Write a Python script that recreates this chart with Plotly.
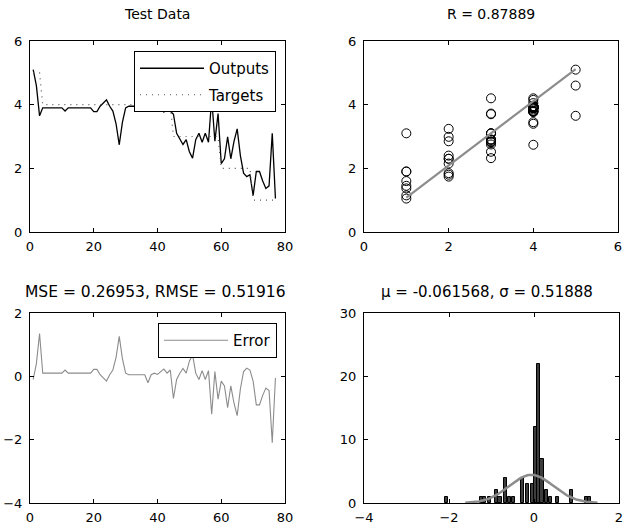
import numpy as np
import plotly.graph_objects as go

# ---------------- data ----------------
sample_index = list(range(1, 78))
targets = [5, 5, 5,
           4, 4, 4, 4, 4, 4, 4, 4, 4, 4, 4, 4, 4, 4, 4, 4, 4, 4, 4, 4, 4,
           4, 4, 4, 4, 4, 4, 4, 4, 4, 4, 4, 4, 4, 4, 4, 4, 4, 4, 4, 4,
           3, 3, 3, 3, 3, 3, 3, 3, 3, 3, 3, 3, 3, 3, 3,
           2, 2, 2, 2, 2, 2, 2, 2, 2, 2,
           1, 1, 1, 1, 1, 1, 1, 1]
outputs = [5.10, 4.60, 3.65, 3.90, 3.90, 3.90, 3.90, 3.90, 3.90, 3.90,
           3.80, 3.90, 3.90, 3.90, 3.90, 3.90, 3.90, 3.90, 3.90, 3.78,
           3.78, 3.95, 4.05, 4.15, 3.95, 3.80, 3.40, 2.74, 3.45, 3.90,
           3.95, 3.95, 3.95, 3.95, 3.95, 3.95, 4.20, 3.95, 3.90, 3.94,
           3.85, 3.77, 3.90, 3.80, 3.70, 3.10, 2.90, 2.75, 2.90, 2.52,
           2.32, 2.90, 3.10, 2.82, 3.10, 2.82, 4.20, 2.85, 3.72, 2.15,
           2.30, 2.99, 2.30, 2.85, 3.24, 2.40, 1.85, 1.74, 1.80, 1.15,
           1.90, 1.90, 1.60, 1.37, 1.45, 3.10, 1.05]
errors = [t - o for t, o in zip(targets, outputs)]

# regression line end points as drawn
fit_x = [1, 5]
fit_y = [1.08, 5.12]

# histogram of the errors as drawn (bin centres and counts)
hist_centers = [-2.05, -1.24, -1.16, -1.05, -0.89, -0.80, -0.68, -0.58, -0.49,
                -0.27, -0.16, -0.04, 0.035, 0.112, 0.19, 0.29, 0.38, 0.55,
                0.88, 1.23, 1.31]
hist_counts = [1, 1, 1, 1, 2, 1, 4, 1, 1,
               4, 3, 3, 12, 22, 7, 2, 1, 1,
               2, 1, 1]
bin_width = 0.075

mse_text = "MSE = 0.26953, RMSE = 0.51916"
r_text = "R = 0.87889"
mu, sigma = -0.061568, 0.51888
mu_text = "\u03bc = -0.061568, \u03c3 = 0.51888"

# fitted normal curve (from the title's mu and sigma)
gx = np.linspace(mu - 3 * sigma, mu + 3 * sigma, 120)
gy = len(outputs) * bin_width / (sigma * np.sqrt(2 * np.pi)) * np.exp(-0.5 * ((gx - mu) / sigma) ** 2)

# ---------------- figure ----------------
W, H = 624, 527
FONT = "DejaVu Sans, Verdana, sans-serif"

def px_x(a, b):
    return [a / W, b / W]

def px_y(top, bottom):
    return [1 - bottom / H, 1 - top / H]

fig = go.Figure()

fig.add_trace(go.Scatter(x=sample_index, y=outputs, mode="lines", name="Outputs",
                         line=dict(color="black", width=1.3), xaxis="x", yaxis="y",
                         legend="legend", legendgroup="a"))
fig.add_trace(go.Scatter(x=sample_index, y=targets, mode="lines", name="Targets",
                         line=dict(color="#555555", width=1.2, dash="1px,5px"), xaxis="x", yaxis="y",
                         legend="legend", legendgroup="b"))

fig.add_trace(go.Scatter(x=targets, y=outputs, mode="markers", showlegend=False,
                         marker=dict(symbol="circle-open", size=9, color="black", line=dict(width=1)),
                         xaxis="x2", yaxis="y2"))
fig.add_trace(go.Scatter(x=fit_x, y=fit_y, mode="lines", showlegend=False,
                         line=dict(color="#8c8c8c", width=2.2), xaxis="x2", yaxis="y2"))

fig.add_trace(go.Scatter(x=sample_index, y=errors, mode="lines", name="Error",
                         line=dict(color="#8c8c8c", width=1.1), xaxis="x3", yaxis="y3",
                         legend="legend2"))

fig.add_trace(go.Bar(x=hist_centers, y=hist_counts, width=bin_width, showlegend=False,
                     marker=dict(color="#3c3c3c", line=dict(color="black", width=1)),
                     xaxis="x4", yaxis="y4"))
fig.add_trace(go.Scatter(x=gx, y=gy, mode="lines", showlegend=False,
                         line=dict(color="#8c8c8c", width=2.5), xaxis="x4", yaxis="y4"))

def ax(domain, rng, dtick, anchor, standoff):
    return dict(domain=domain, range=rng, dtick=dtick, tick0=0, anchor=anchor,
                showline=True, linecolor="black", linewidth=1, mirror="ticks",
                ticks="inside", ticklen=4, tickcolor="black", showgrid=False,
                zeroline=False, ticklabelstandoff=standoff,
                tickfont=dict(family=FONT, size=13, color="black"))

fig.update_layout(
    width=W, height=H, margin=dict(l=0, r=0, t=0, b=0, autoexpand=False),
    paper_bgcolor="white", plot_bgcolor="white", bargap=0,
    font=dict(family=FONT, size=13, color="black"),
    xaxis=ax(px_x(30, 285), [0, 80], 20, "y", 2),
    yaxis=ax(px_y(41, 232), [0, 6], 2, "x", 4),
    xaxis2=ax(px_x(364, 618), [0, 6], 2, "y2", 2),
    yaxis2=ax(px_y(41, 232), [0, 6], 2, "x2", 4),
    xaxis3=ax(px_x(30, 285), [0, 80], 20, "y3", 2),
    yaxis3=ax(px_y(313, 503), [-4, 2], 2, "x3", 4),
    xaxis4=ax(px_x(364, 619), [-4, 2], 2, "y4", 2),
    yaxis4=ax(px_y(313, 503), [0, 30], 10, "x4", 4),
    legend=dict(x=276 / W, xanchor="right", y=1 - 51 / H, yanchor="top",
                bordercolor="black", borderwidth=1, bgcolor="white",
                font=dict(family=FONT, size=15), itemwidth=64, tracegroupgap=4),
    legend2=dict(x=277 / W, xanchor="right", y=1 - 323 / H, yanchor="top",
                 bordercolor="black", borderwidth=1, bgcolor="white",
                 font=dict(family=FONT, size=15), itemwidth=64),
)

titles = [("Test Data", 157 / W, 1 - 14 / H, 14),
          (r_text, 491 / W, 1 - 14 / H, 14),
          (mse_text, 155 / W, 1 - 292 / H, 15.5),
          (mu_text, 487 / W, 1 - 292 / H, 15)]
for text, x, y, size in titles:
    fig.add_annotation(text=text, x=x, y=y, xref="paper", yref="paper",
                       xanchor="center", yanchor="middle",
                       showarrow=False, font=dict(family=FONT, size=size, color="black"))

fig.write_html("out.html")
